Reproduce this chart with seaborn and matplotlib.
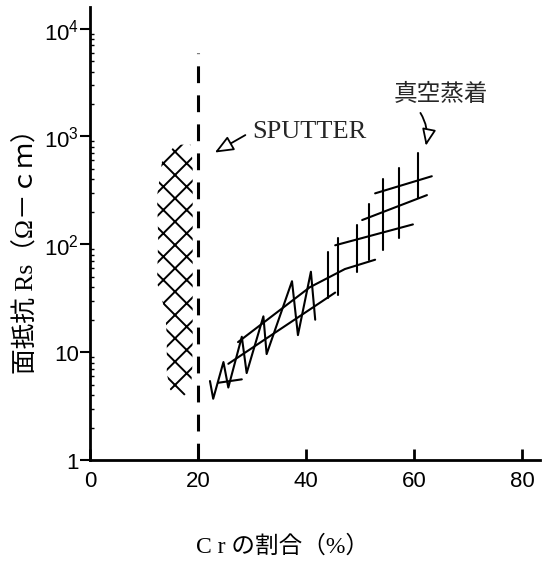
import numpy as np
import pandas as pd
import matplotlib
matplotlib.use("Agg")
import matplotlib.pyplot as plt
import seaborn as sns

# axis ticks
x_ticks = [0, 20, 40, 60, 80]
y_ticks = [1, 10, 100, 1000, 10000]
y_tick_labels = ["1", "10", r"$10^2$", r"$10^3$", r"$10^4$"]

# SPUTTER region (cross hatched band)
sp_y       = [3.7, 4.5, 6.4, 14, 24, 44, 115, 280, 580, 840]
sp_x_left  = [16.5, 14.8, 14.2, 14.2, 13.9, 12.4, 12.6, 12.4, 13.3, 15.8]
sp_x_right = [16.8, 18.6, 18.9, 19.0, 19.0, 19.0, 19.0, 19.0, 19.0, 18.6]

# dashed boundary at Cr = 20 %
limit_x = 20
limit_top = 6000

# vacuum deposition band: zig-zag stroke in the lower part
vz_x = [22.2, 22.8, 24.7, 25.6, 28.1, 29.0, 32.1, 32.7, 37.4, 38.5, 40.9, 41.7]
vz_y = [5.4, 3.7, 8.1, 4.7, 13.9, 6.4, 21.5, 9.6, 45.5, 14.4, 55.7, 20]

# vacuum deposition band: separate vertical strokes
vs_x  = [44.0, 46.0, 49.4, 51.7, 54.3, 57.3, 60.8]
vs_lo = [32, 34, 55, 72, 88, 115, 268]
vs_hi = [85, 115, 151, 235, 400, 510, 710]

# vacuum deposition band: slanted guide lines
seg_a_x = [23.7, 28.1];               seg_a_y = [5.2, 5.6]
seg_b_x = [25.6, 45.4];               seg_b_y = [7.8, 35.7]
seg_c_x = [27.4, 40.7, 47.2, 52.8];   seg_c_y = [12.4, 40, 59, 72]
seg_d_x = [45.4, 59.8];               seg_d_y = [98, 153]
seg_e_x = [50.4, 62.4];               seg_e_y = [168, 286]
seg_f_x = [52.8, 63.3];               seg_f_y = [297, 428]

# build one long table of all pen strokes
pieces = []
pieces.append(pd.DataFrame({"x": vz_x, "y": vz_y, "piece": "zig"}))
for i, (sx, lo, hi) in enumerate(zip(vs_x, vs_lo, vs_hi)):
    pieces.append(pd.DataFrame({"x": [sx, sx], "y": [lo, hi], "piece": f"v{i}"}))
for name, sx, sy in [("a", seg_a_x, seg_a_y), ("b", seg_b_x, seg_b_y),
                     ("c", seg_c_x, seg_c_y), ("d", seg_d_x, seg_d_y),
                     ("e", seg_e_x, seg_e_y), ("f", seg_f_x, seg_f_y)]:
    pieces.append(pd.DataFrame({"x": sx, "y": sy, "piece": "s" + name}))
strokes = pd.concat(pieces, ignore_index=True)

# higher dpi makes the hatch pattern coarser; sizes below are scaled back
DPI = 140
S = 100 / DPI

sns.set_theme(style="ticks")
plt.rcParams["font.family"] = ["Liberation Sans", "Noto Sans CJK JP", "DejaVu Sans"]
plt.rcParams["mathtext.fontset"] = "custom"
plt.rcParams["mathtext.rm"] = "Liberation Sans"
plt.rcParams["mathtext.it"] = "Liberation Sans"
plt.rcParams["hatch.linewidth"] = 1.4 * S
plt.rcParams["hatch.color"] = "black"

fig = plt.figure(figsize=(543 / DPI, 577 / DPI), dpi=DPI)
ax = fig.add_axes([0.166, 0.201, 0.828, 0.785])
ax.set_yscale("log")

# sputter cross hatch
ax.fill_betweenx(sp_y, sp_x_left, sp_x_right, facecolor="none",
                 edgecolor="black", hatch="xx", linewidth=0)

# dashed limit line
ax.plot([limit_x, limit_x], [1, limit_top], color="black", lw=2.2 * S,
        dashes=(5.5, 4))

# vacuum deposition strokes
sns.lineplot(data=strokes, x="x", y="y", units="piece", estimator=None,
             sort=False, color="black", lw=1.5 * S, legend=False, ax=ax)

ax.set_xlim(0, 83.3)
ax.set_ylim(1, 10 ** 4.2)
ax.set_xticks(x_ticks)
ax.set_xticklabels([str(t) for t in x_ticks])
ax.set_yticks(y_ticks)
ax.set_yticklabels(y_tick_labels)
sns.despine(ax=ax)
for s in ["left", "bottom"]:
    ax.spines[s].set_linewidth(2 * S)
    ax.spines[s].set_color("black")

ax.tick_params(axis="x", direction="in", length=8 * S, width=2 * S, pad=7 * S,
               labelsize=16 * S, colors="black")
ax.tick_params(axis="y", which="major", direction="out", length=7 * S,
               width=1.5 * S, pad=1 * S, labelsize=16 * S, colors="black")
ax.tick_params(axis="y", which="minor", direction="in", length=3 * S,
               width=1 * S, colors="black")

serif_cjk = ["Liberation Serif", "Noto Sans CJK JP"]
ax.set_xlabel("C r の割合（%）", family=serif_cjk, fontsize=17 * S, color="black")
ax.xaxis.set_label_coords(0.428, -0.164)
ax.set_ylabel("面抵抗 Rs（Ω－ｃｍ）", family=serif_cjk, fontsize=18.5 * S,
              color="black")
ax.yaxis.set_label_coords(-0.115, 0.476)

ax.annotate("SPUTTER", xy=(23.1, 710), xytext=(40.6, 1120),
            ha="center", va="center", family="Liberation Serif",
            fontsize=19 * S,
            arrowprops=dict(arrowstyle="-|>,head_length=0.6,head_width=0.25",
                            fc="white", ec="black", lw=1.3 * S,
                            relpos=(0, 0.5), shrinkA=2 * S, shrinkB=0))

ax.annotate("真空蒸着", xy=(62.2, 820), xytext=(65, 2500),
            ha="center", va="center", family="Noto Sans CJK JP",
            fontsize=17 * S,
            arrowprops=dict(arrowstyle="-|>,head_length=0.6,head_width=0.25",
                            fc="white", ec="black", lw=1.3 * S,
                            relpos=(0.22, 0),
                            connectionstyle="arc3,rad=-0.25",
                            shrinkA=3 * S, shrinkB=0))

plt.savefig("out.png", dpi=DPI)
plt.close()
